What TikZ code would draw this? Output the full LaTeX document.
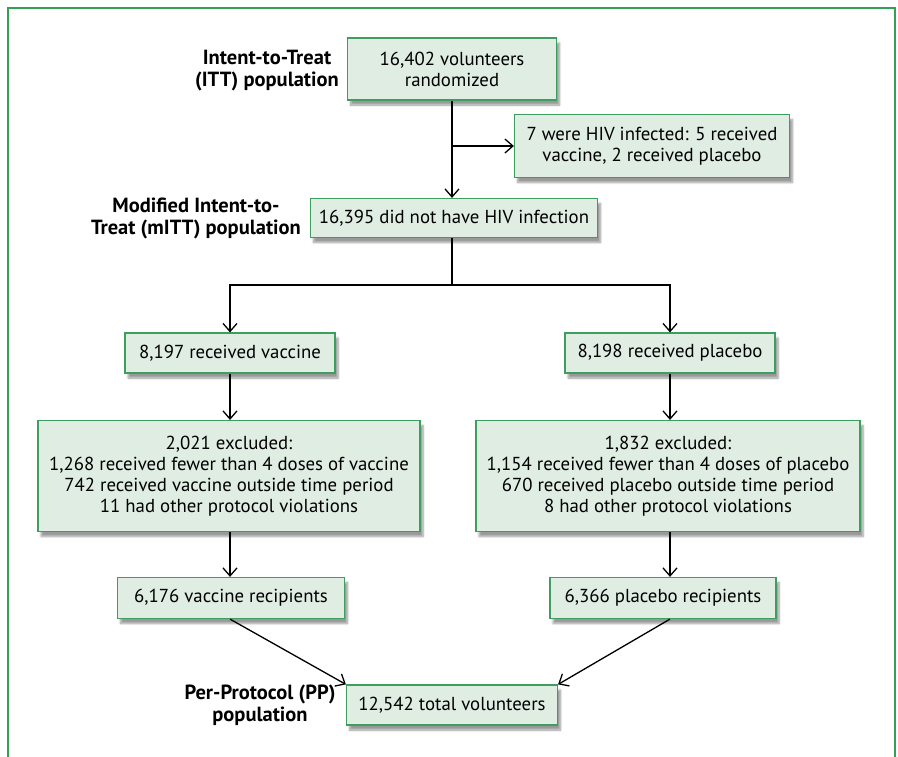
\documentclass[tikz,border=0pt]{standalone}
\usepackage{fontspec}
\setmainfont{PT Sans}
\usetikzlibrary{arrows.meta,shadows.blur}
\definecolor{framegreen}{RGB}{52,160,85}
\definecolor{boxline}{RGB}{62,158,96}
\definecolor{boxfill}{RGB}{223,237,227}
\tikzset{
  flowbox/.style={draw=boxline, line width=1.2pt, fill=boxfill, align=center,
    font=\fontsize{18.8}{21}\selectfont, inner sep=2pt,
    blur shadow={shadow xshift=3pt, shadow yshift=-5pt, shadow blur steps=6, shadow opacity=40}},
  poplabel/.style={align=center, font=\fontsize{20.5}{22}\selectfont\bfseries},
  flowarrow/.style={line width=1.3pt, -{Straight Barb[length=8pt,width=14pt]}},
  flowline/.style={line width=1.3pt}
}
\begin{document}
\begin{tikzpicture}[x=1pt, y=-1pt]
	\useasboundingbox (0,0) rectangle (898,757);
	\draw[framegreen, line width=1.5pt] (8,757) -- (8,8) -- (895,8) -- (895,757);
	% population labels
	\node[poplabel] (ittlab) at (267,71) {Intent-to-Treat\\(ITT) population};
	\node[poplabel] (mittlab) at (196,218) {Modified Intent-to-\\Treat (mITT) population};
	\node[poplabel] (pplab) at (260,705) {Per-Protocol (PP)\\population};
	% boxes
	\node[flowbox, minimum width=209pt, minimum height=62pt] (itt) at (452,69) {16,402 volunteers\\randomized};
	\node[flowbox, minimum width=275pt, minimum height=63pt] (hiv) at (652,146) {7 were HIV infected: 5 received\\vaccine, 2 received placebo};
	\node[flowbox, minimum width=287pt, minimum height=39pt] (mitt) at (454,218) {16,395 did not have HIV infection};
	\node[flowbox, minimum width=210pt, minimum height=40pt] (vac) at (230,353) {8,197 received vaccine};
	\node[flowbox, minimum width=210pt, minimum height=40pt] (plc) at (670,353) {8,198 received placebo};
	\node[flowbox, minimum width=382pt, minimum height=111pt] (vacex) at (229,476) {2,021 excluded:\\1,268 received fewer than 4 doses of vaccine\\742 received vaccine outside time period\\11 had other protocol violations};
	\node[flowbox, minimum width=384pt, minimum height=111pt] (plcex) at (668,476) {1,832 excluded:\\1,154 received fewer than 4 doses of placebo\\670 received placebo outside time period\\8 had other protocol violations};
	\node[flowbox, minimum width=227pt, minimum height=41pt] (vacpp) at (231,598) {6,176 vaccine recipients};
	\node[flowbox, minimum width=226pt, minimum height=41pt] (plcpp) at (663,598) {6,366 placebo recipients};
	\node[flowbox, minimum width=211pt, minimum height=40pt] (total) at (452,705) {12,542 total volunteers};
	% connectors
	\coordinate (split) at (452,146);
	\coordinate (fork) at (452,285);
	\draw[flowarrow] (itt.south) -- (mitt.north -| itt.south);
	\draw[flowarrow] (split) -- (hiv.west);
	\draw[flowline] (mitt.south -| fork) -- (fork);
	\draw[flowarrow] (fork) -| (vac.north);
	\draw[flowarrow] (fork) -| (plc.north);
	\draw[flowarrow] (vac.south) -- (vacex.north -| vac.south);
	\draw[flowarrow] (plc.south) -- (plcex.north -| plc.south);
	\draw[flowarrow] (vacex.south -| vac.south) -- (vacpp.north -| vac.south);
	\draw[flowarrow] (plcex.south -| plc.south) -- (plcpp.north -| plc.south);
	\draw[flowarrow] (vacpp.south -| vac.south) -- (total.north west);
	\draw[flowarrow] (plcpp.south -| plc.south) -- (total.north east);
\end{tikzpicture}
\end{document}
